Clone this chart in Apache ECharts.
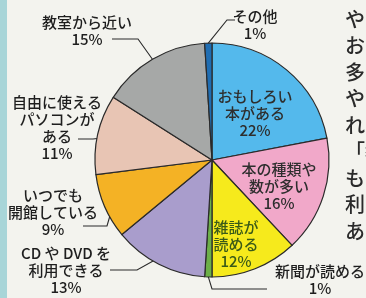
<!DOCTYPE html>
<html>
<head>
<meta charset="utf-8">
<script src="https://cdn.jsdelivr.net/npm/echarts@6/dist/echarts.min.js"></script>
<style>
html, body { margin: 0; padding: 0; background: #f3f3ee; }
#chart { width: 366px; height: 298px; }
</style>
</head>
<body>
<div id="chart"></div>
<script>
// 図書館を利用する理由（時計回り、真上から）
var reasons = ['おもしろい\n本がある', '本の種類や\n数が多い', '雑誌が\n読める', '新聞が読める',
  'CD や DVD を\n利用できる', 'いつでも\n開館している', '自由に使える\nパソコンが\nある', '教室から近い', 'その他'];
var shares = [22, 16, 12, 1, 13, 9, 11, 15, 1];
var sliceColors = ['#54b9ec', '#f1a8c9', '#f6ea1c', '#6caf48', '#a99dcc', '#f4b225', '#e8c5b4', '#a6a8a7', '#1f6db2'];
// 右端で切れている本文
var sideChars = ['や', 'お', '多', 'や', 'れ', '「教', 'も', '利', 'あ'];

// ラベルの置き場所と引き出し線
var CX = 212, CY = 160, R = 117;
var labelAt = [[255, 113], [279, 186], [236, 244], [320, 280], [66, 270], [53, 212], [57, 128], [87, 31], [255, 25]];
var leader = [null, null, null,
  [[212, 289], [267, 289]],
  [[137, 270], [110, 270]],
  [[107, 226], [83, 226]],
  [[93, 139], [78, 139]],
  [[138, 39], [112, 39]],
  [[227, 20], [235, 20]]];
var pullIn = [0, 0, 0, 0, 10, 10, 12, 0, 0];

var pieData = [];
for (var i = 0; i < reasons.length; i++) {
  var item = { name: reasons[i], value: shares[i], itemStyle: { color: sliceColors[i] } };
  if (!leader[i]) {
    item.labelLine = { show: false };
    item.label = { color: i == 2 ? '#3a5a18' : '#2e2e2e' };
  }
  pieData.push(item);
}

var sideText = [];
for (var j = 0; j < sideChars.length; j++) {
  sideText.push({
    type: 'text', left: 345, top: 9 + j * 26.5,
    style: { text: sideChars[j], font: '500 20px "Noto Sans CJK JP"', fill: '#2a2a2a' }
  });
}

var myChart = echarts.init(document.getElementById('chart'));
var option = {
  backgroundColor: '#f3f3ee',
  animation: false,
  textStyle: { fontFamily: '"Noto Sans CJK JP", sans-serif' },
  graphic: [
    { type: 'rect', left: 0, top: 0, shape: { width: 7, height: 298 }, style: { fill: '#a8d5d8' } }
  ].concat(sideText),
  series: [{
    type: 'pie',
    center: [CX, CY],
    radius: R,
    startAngle: 90,
    clockwise: true,
    avoidLabelOverlap: false,
    emphasis: { disabled: true },
    itemStyle: { borderColor: '#2a2a2a', borderWidth: 1.2 },
    label: {
      position: 'outside',
      formatter: function (p) { return p.name + '\n' + p.value + '%'; },
      fontSize: 15,
      fontWeight: 500,
      lineHeight: 17,
      color: '#1e1e1e',
      align: 'center'
    },
    labelLine: { show: true, length: 10, length2: 10, lineStyle: { color: '#2a2a2a', width: 1.1 } },
    labelLayout: function (p) {
      var k = p.dataIndex;
      var o = { x: labelAt[k][0], y: labelAt[k][1], align: 'center', verticalAlign: 'middle' };
      if (leader[k] && p.labelLinePoints) {
        var s = p.labelLinePoints[0];
        var f = (R - pullIn[k]) / R;
        o.labelLinePoints = [[CX + (s[0] - CX) * f, CY + (s[1] - CY) * f]].concat(leader[k]);
      }
      return o;
    },
    data: pieData
  }]
};
myChart.setOption(option);
</script>
</body>
</html>
